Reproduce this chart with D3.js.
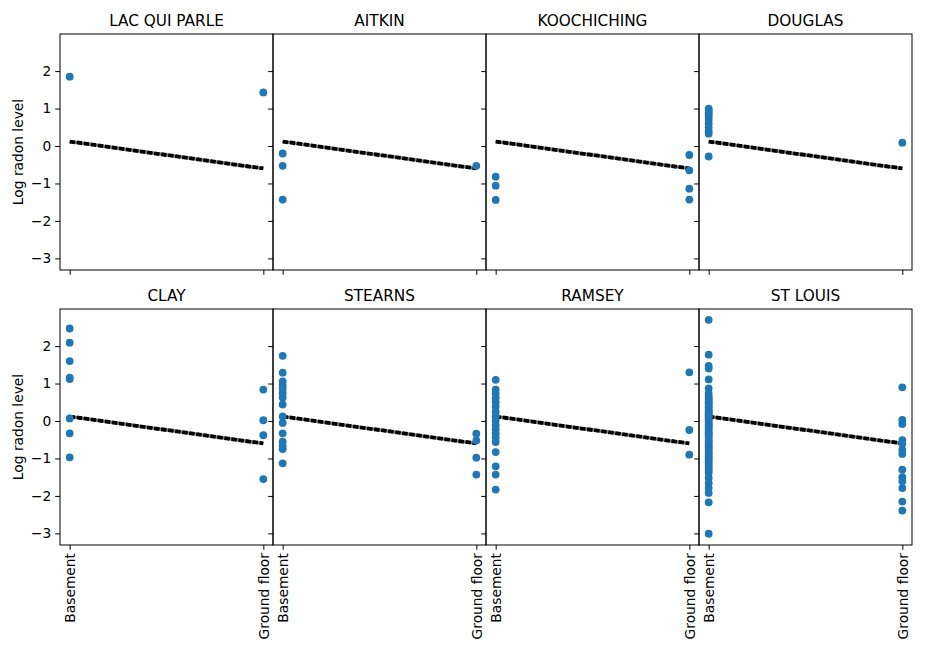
<!DOCTYPE html>
<html>
<head>
<meta charset="utf-8">
<script src="https://cdn.jsdelivr.net/npm/d3@7"></script>
<style>
  body { margin: 0; background: #fff; }
  text { font-family: "DejaVu Sans", sans-serif; fill: #000; }
</style>
</head>
<body>
<script>
const width = 926;
const height = 649;
const margin = { top: 34, right: 14, bottom: 104, left: 60 };
const rowGap = 39;

const counties = ["LAC QUI PARLE", "AITKIN", "KOOCHICHING", "DOUGLAS", "CLAY", "STEARNS", "RAMSEY", "ST LOUIS"];
const floorLabels = ["Basement", "Ground floor"];
const yTicks = [-3, -2, -1, 0, 1, 2];

// log radon readings per county
const basement = [
  [1.85],
  [-0.2, -0.53, -1.43],
  [-0.82, -1.06, -1.44],
  [1.0, 0.95, 0.9, 0.84, 0.78, 0.7, 0.6, 0.5, 0.4, 0.33, -0.28],
  [2.47, 2.09, 1.6, 1.16, 1.12, 0.07, -0.33, -0.97],
  [1.74, 1.29, 1.06, 0.96, 0.87, 0.75, 0.63, 0.44, 0.12, -0.05, -0.33, -0.55, -0.66, -0.75, -1.13],
  [1.1, 0.84, 0.74, 0.62, 0.51, 0.38, 0.25, 0.13, 0.01, -0.11, -0.22, -0.33, -0.44, -0.56, -0.83, -1.21, -1.43, -1.83],
  [2.7, 1.77, 1.47, 1.4, 1.11, 0.87, 0.74, 0.65, 0.6, 0.55, 0.5, 0.47, 0.41, 0.36, 0.3, 0.26, 0.22,
   0.18, 0.14, 0.1, 0.05, 0.0, -0.05, -0.1, -0.13, -0.18, -0.22, -0.29, -0.33, -0.36, -0.4, -0.45,
   -0.51, -0.55, -0.6, -0.66, -0.69, -0.73, -0.8, -0.86, -0.92, -0.97, -1.02, -1.08, -1.14, -1.2,
   -1.27, -1.33, -1.39, -1.52, -1.66, -1.79, -1.92, -2.17, -3.01]
];
const groundFloor = [
  [1.43],
  [-0.53],
  [-0.24, -0.65, -1.14, -1.43],
  [0.09],
  [0.84, 0.02, -0.38, -1.55],
  [-0.34, -0.52, -0.98, -1.43],
  [1.3, -0.24, -0.9],
  [0.9, 0.03, -0.08, -0.51, -0.61, -0.77, -0.88, -1.3, -1.5, -1.61, -1.79, -2.15, -2.39]
];
// fitted line: value at basement (0) and ground floor (1)
const fitLine = [0.12, -0.6];

const cols = 4;
const panelWidth = (width - margin.left - margin.right) / cols;
const panelHeight = (height - margin.top - margin.bottom - rowGap) / 2;

const x = d3.scaleLinear().domain([-0.05, 1.05]).range([0, panelWidth]);
const y = d3.scaleLinear().domain([-3.31, 2.99]).range([panelHeight, 0]);

const svg = d3.select("body")
  .append("svg")
  .attr("width", width)
  .attr("height", height);

counties.forEach((name, i) => {
  const row = Math.floor(i / cols);
  const col = i % cols;
  const g = svg.append("g")
    .attr("transform", `translate(${margin.left + col * panelWidth}, ${margin.top + row * (panelHeight + rowGap)})`);

  const yAxis = d3.axisLeft(y).tickValues(yTicks).tickSize(4.8).tickPadding(4)
    .tickFormat(col === 0 ? d => d < 0 ? "\u2212" + Math.abs(d) : d : "");
  const yAxisGroup = g.append("g").call(yAxis);
  yAxisGroup.select(".domain").remove();
  yAxisGroup.selectAll("text").style("font-size", "13.8px");

  const xAxis = d3.axisBottom(x).tickValues([0, 1]).tickSize(4.8).tickPadding(4)
    .tickFormat(row === 1 ? (d => floorLabels[d]) : "");
  const xAxisGroup = g.append("g")
    .attr("transform", `translate(0, ${panelHeight})`)
    .call(xAxis);
  xAxisGroup.select(".domain").remove();
  xAxisGroup.selectAll("text")
    .style("font-size", "13.8px")
    .attr("transform", "rotate(-90)")
    .attr("text-anchor", "end")
    .attr("x", -8)
    .attr("y", 0)
    .attr("dy", "0.35em");

  // fitted line
  const line = d3.line().x((d, k) => x(k)).y(d => y(d));
  g.append("path")
    .datum(fitLine)
    .attr("d", line)
    .attr("fill", "none")
    .attr("stroke", "#777")
    .attr("stroke-width", 3.2);
  g.append("path")
    .datum(fitLine)
    .attr("d", line)
    .attr("fill", "none")
    .attr("stroke", "#000")
    .attr("stroke-width", 3.8)
    .attr("stroke-dasharray", "5.5,1.6");

  const points = basement[i].map(v => ({ floor: 0, v }))
    .concat(groundFloor[i].map(v => ({ floor: 1, v })));
  g.selectAll("circle")
    .data(points)
    .enter()
    .append("circle")
    .attr("cx", d => x(d.floor))
    .attr("cy", d => y(d.v))
    .attr("r", 3.9)
    .attr("fill", "#1f77b4");

  g.append("rect")
    .attr("width", panelWidth)
    .attr("height", panelHeight)
    .attr("fill", "none")
    .attr("stroke", "#000")
    .attr("stroke-width", 1);

  g.append("text")
    .attr("x", panelWidth / 2)
    .attr("y", -8)
    .attr("text-anchor", "middle")
    .style("font-size", "15.3px")
    .text(name);

  if (col === 0) {
    g.append("text")
      .attr("transform", `translate(${-37}, ${panelHeight / 2}) rotate(-90)`)
      .attr("text-anchor", "middle")
      .style("font-size", "13.8px")
      .text("Log radon level");
  }
});
</script>
</body>
</html>
